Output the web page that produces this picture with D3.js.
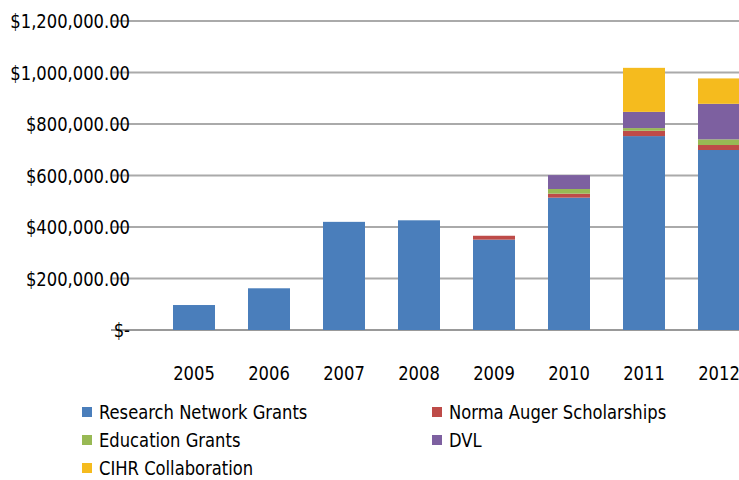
<!DOCTYPE html>
<html>
<head>
<meta charset="utf-8">
<script src="https://cdn.jsdelivr.net/npm/d3@7"></script>
<style>
  body { margin: 0; background: #fff; }
  text { font-family: "DejaVu Sans Condensed", "Liberation Sans Narrow", sans-serif; fill: #000; }
</style>
</head>
<body>
<script>
// data
var years = ['2005', '2006', '2007', '2008', '2009', '2010', '2011', '2012'];
var series = ['Research Network Grants', 'Norma Auger Scholarships', 'Education Grants', 'DVL', 'CIHR Collaboration'];
var research = [97000, 162000, 420000, 426000, 351000, 514000, 753000, 699000];
var norma    = [0, 0, 0, 0, 15000, 15500, 20700, 19400];
var education = [0, 0, 0, 0, 0, 18000, 10400, 22000];
var dvl      = [0, 0, 0, 0, 0, 54000, 63000, 138000];
var cihr     = [0, 0, 0, 0, 0, 0, 171000, 98600];
var yTicks = [0, 200000, 400000, 600000, 800000, 1000000, 1200000];
var colors = ['#4a7ebb', '#be4b48', '#98b954', '#7d60a0', '#f5bb1e'];

var width = 739, height = 480;
var squeeze = 0.91; // text in the picture is narrower than the condensed font
var svg = d3.select('body').append('svg').attr('width', width).attr('height', height);

var rows = years.map((y, i) => ({
	year: y,
	'Research Network Grants': research[i],
	'Norma Auger Scholarships': norma[i],
	'Education Grants': education[i],
	'DVL': dvl[i],
	'CIHR Collaboration': cihr[i]
}));

var y = d3.scaleLinear().domain([0, 1200000]).range([330, 21]);
var x = d3.scaleBand().domain(years).range([156.5, 756.5]).paddingInner(0.44).paddingOuter(0.22);
var color = d3.scaleOrdinal().domain(series).range(colors);

function place(px, py) {
	return 'translate(' + px + ',' + py + ') scale(' + squeeze + ',1)';
}

// grid lines
svg.append('g').selectAll('line').data(yTicks).join('line')
	.attr('x1', 111).attr('x2', width)
	.attr('y1', d => y(d)).attr('y2', d => y(d))
	.attr('stroke', d => d === 0 ? '#999' : '#aaa').attr('stroke-width', 2);

// y labels
var fmt = d3.format('$,.2f');
svg.append('g').selectAll('text').data(yTicks).join('text')
	.attr('transform', d => place(130, y(d) + 7))
	.attr('text-anchor', 'end').attr('font-size', 20)
	.text(d => d === 0 ? '$-' : fmt(d));

// stacked bars
var stack = d3.stack().keys(series)(rows);
svg.append('g').selectAll('g').data(stack).join('g')
	.attr('fill', d => color(d.key))
	.selectAll('rect').data(d => d).join('rect')
	.attr('x', d => x(d.data.year))
	.attr('width', x.bandwidth())
	.attr('y', d => y(d[1]))
	.attr('height', d => y(d[0]) - y(d[1]));

// x labels
svg.append('g').selectAll('text').data(years).join('text')
	.attr('transform', d => place(x(d) + x.bandwidth() / 2, 380))
	.attr('text-anchor', 'middle').attr('font-size', 20)
	.text(d => d);

// legend
var legPos = [[82, 412], [432, 412], [82, 440], [432, 440], [82, 468]];
var leg = svg.append('g').selectAll('g').data(series).join('g')
	.attr('transform', (d, i) => 'translate(' + legPos[i][0] + ',' + legPos[i][1] + ')');
leg.append('rect').attr('x', 0).attr('y', -5).attr('width', 10).attr('height', 10).attr('fill', d => color(d));
leg.append('text').attr('transform', place(17, 7)).attr('font-size', 20).text(d => d);
</script>
</body>
</html>
